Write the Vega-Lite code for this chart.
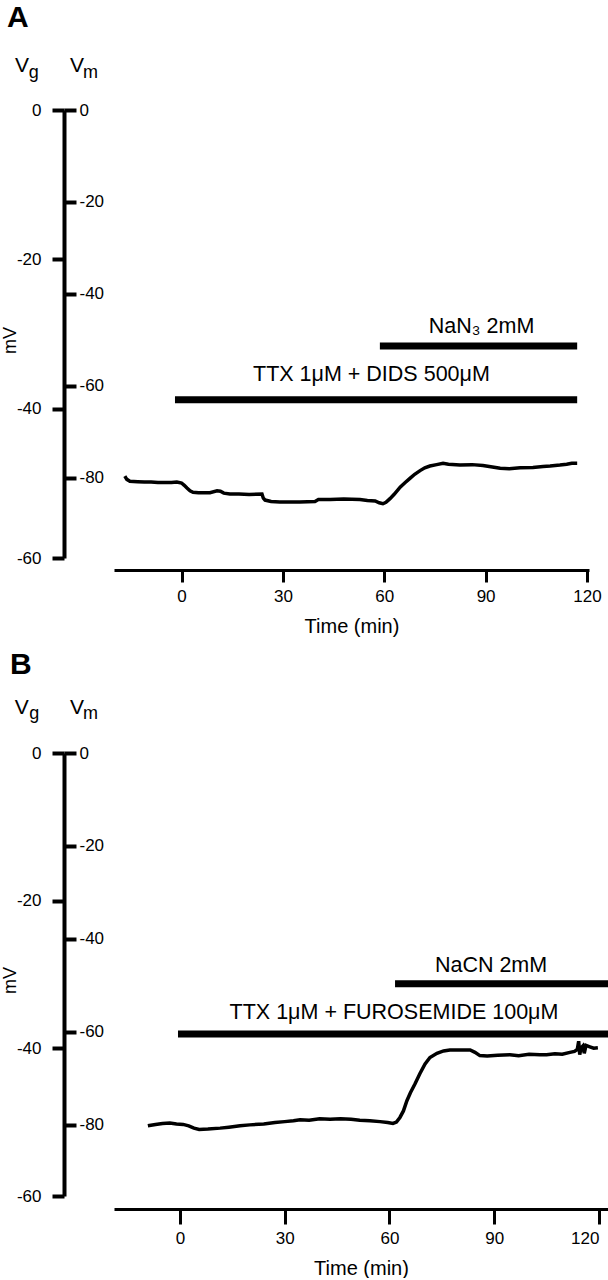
{
  "$schema": "https://vega.github.io/schema/vega-lite/v6.json",
  "background": "white",
  "padding": {"left": 1, "top": 3, "right": 0, "bottom": 0},
  "config": {
    "font": "Liberation Sans",
    "view": {"stroke": null},
    "axis": {"grid": false, "domainColor": "black", "tickColor": "black", "labelColor": "black", "titleColor": "black", "labelFont": "Liberation Sans", "titleFont": "Liberation Sans", "titleFontWeight": "normal", "labelFlush": false, "labelOverlap": false, "labelExpr": "datum.value < 0 ? '-' + abs(datum.value) : '' + datum.value"}
  },
  "spacing": 13,
  "datasets": {
    "traceA": [
      {"t": -16.8, "vm": -79.6}, {"t": -16.2, "vm": -80.3}, {"t": -15.3, "vm": -80.7}, {"t": -13, "vm": -80.8}, {"t": -11, "vm": -80.9}, {"t": -9, "vm": -80.9}, {"t": -7, "vm": -81.0}, {"t": -5, "vm": -81.0}, {"t": -3, "vm": -81.0}, {"t": -1.4, "vm": -80.9}, {"t": 0, "vm": -81.1}, {"t": 0.8, "vm": -81.6}, {"t": 1.6, "vm": -82.2}, {"t": 2.5, "vm": -82.8}, {"t": 3.4, "vm": -83.1}, {"t": 5, "vm": -83.2}, {"t": 7, "vm": -83.2}, {"t": 8.4, "vm": -83.2}, {"t": 10.5, "vm": -82.8}, {"t": 11.5, "vm": -82.9}, {"t": 12.5, "vm": -83.3}, {"t": 14.3, "vm": -83.5}, {"t": 17, "vm": -83.5}, {"t": 20, "vm": -83.6}, {"t": 23.8, "vm": -83.5}, {"t": 24.2, "vm": -84.4}, {"t": 24.7, "vm": -84.8}, {"t": 26.5, "vm": -85.1}, {"t": 29.1, "vm": -85.2}, {"t": 32, "vm": -85.2}, {"t": 35, "vm": -85.2}, {"t": 39.5, "vm": -85.1}, {"t": 40.5, "vm": -84.7}, {"t": 44, "vm": -84.7}, {"t": 48, "vm": -84.6}, {"t": 52.8, "vm": -84.7}, {"t": 55, "vm": -84.9}, {"t": 57.3, "vm": -85.0}, {"t": 58.5, "vm": -85.4}, {"t": 59.6, "vm": -85.6}, {"t": 60.5, "vm": -85.3}, {"t": 61.7, "vm": -84.5}, {"t": 63, "vm": -83.5}, {"t": 64.7, "vm": -82.0}, {"t": 66.2, "vm": -81.0}, {"t": 67.6, "vm": -80.1}, {"t": 69, "vm": -79.2}, {"t": 70.6, "vm": -78.4}, {"t": 72, "vm": -77.8}, {"t": 73.5, "vm": -77.4}, {"t": 75.5, "vm": -77.1}, {"t": 77.4, "vm": -76.8}, {"t": 79, "vm": -77.0}, {"t": 82.4, "vm": -77.2}, {"t": 86, "vm": -77.1}, {"t": 89.2, "vm": -77.3}, {"t": 92, "vm": -77.6}, {"t": 94.3, "vm": -77.9}, {"t": 97, "vm": -78.0}, {"t": 100.2, "vm": -77.8}, {"t": 104, "vm": -77.7}, {"t": 107, "vm": -77.5}, {"t": 109.1, "vm": -77.4}, {"t": 112, "vm": -77.2}, {"t": 114, "vm": -77.0}, {"t": 115.5, "vm": -76.8}, {"t": 117.1, "vm": -76.8}
    ],
    "traceB": [
      {"t": -9.2, "vm": -80.2}, {"t": -7, "vm": -79.9}, {"t": -5, "vm": -79.7}, {"t": -2.9, "vm": -79.6}, {"t": -1, "vm": -79.8}, {"t": 0.9, "vm": -79.9}, {"t": 2.5, "vm": -80.2}, {"t": 4, "vm": -80.7}, {"t": 5.5, "vm": -81.0}, {"t": 8, "vm": -80.9}, {"t": 11.5, "vm": -80.7}, {"t": 14, "vm": -80.5}, {"t": 17.2, "vm": -80.2}, {"t": 20, "vm": -80.0}, {"t": 24, "vm": -79.8}, {"t": 27.2, "vm": -79.5}, {"t": 30, "vm": -79.3}, {"t": 32.5, "vm": -79.1}, {"t": 34.4, "vm": -78.9}, {"t": 37, "vm": -79.0}, {"t": 40, "vm": -78.7}, {"t": 43, "vm": -78.8}, {"t": 46, "vm": -78.7}, {"t": 49, "vm": -78.8}, {"t": 51.5, "vm": -79.0}, {"t": 54.4, "vm": -79.1}, {"t": 57.3, "vm": -79.3}, {"t": 59.5, "vm": -79.5}, {"t": 61, "vm": -79.7}, {"t": 62, "vm": -79.4}, {"t": 63, "vm": -78.4}, {"t": 64, "vm": -77.0}, {"t": 65, "vm": -74.8}, {"t": 66, "vm": -73.1}, {"t": 67.3, "vm": -71.2}, {"t": 68.7, "vm": -69.0}, {"t": 70.2, "vm": -66.9}, {"t": 71.6, "vm": -65.5}, {"t": 73.6, "vm": -64.6}, {"t": 75.5, "vm": -64.1}, {"t": 77.3, "vm": -63.9}, {"t": 80, "vm": -63.9}, {"t": 83.1, "vm": -63.9}, {"t": 84.5, "vm": -64.4}, {"t": 85.9, "vm": -65.1}, {"t": 88, "vm": -65.2}, {"t": 91, "vm": -65.0}, {"t": 94.5, "vm": -64.9}, {"t": 97, "vm": -65.1}, {"t": 100, "vm": -64.8}, {"t": 103.1, "vm": -64.9}, {"t": 105, "vm": -64.9}, {"t": 107.4, "vm": -64.7}, {"t": 109.5, "vm": -64.8}, {"t": 111.7, "vm": -64.4}, {"t": 113, "vm": -64.2}, {"t": 113.8, "vm": -63.8}, {"t": 114.2, "vm": -62.0}, {"t": 114.5, "vm": -64.9}, {"t": 114.9, "vm": -63.4}, {"t": 115.4, "vm": -63.0}, {"t": 115.8, "vm": -64.6}, {"t": 116.3, "vm": -62.9}, {"t": 117.4, "vm": -63.2}, {"t": 118.5, "vm": -63.5}, {"t": 119.7, "vm": -63.4}
    ],
    "barsA": [
      {"start": -1.95, "end": 117.1, "vg": -38.8, "label": "TTX 1μM + DIDS 500μM"},
      {"start": 58.7, "end": 117.1, "vg": -31.6, "label": "NaN₃ 2mM"}
    ],
    "barsB": [
      {"start": -0.57, "end": 122.6, "vg": -38.06, "label": "TTX 1μM + FUROSEMIDE 100μM"},
      {"start": 61.6, "end": 122.6, "vg": -31.25, "label": "NaCN 2mM"}
    ],
    "textA": [
      {"t": -51.7, "vg": 11.1, "label": "A", "kind": "panel"},
      {"t": -49.3, "vg": 5.09, "label": "V", "kind": "main"},
      {"t": -45.2, "vg": 4.29, "label": "g", "kind": "sub"},
      {"t": -33.0, "vg": 5.09, "label": "V", "kind": "main"},
      {"t": -29.2, "vg": 4.29, "label": "m", "kind": "sub"},
      {"t": 88.8, "vg": -29.86, "label": "NaN₃ 2mM", "kind": "treat"},
      {"t": 56.2, "vg": -36.29, "label": "TTX 1μM + DIDS 500μM", "kind": "treat"}
    ],
    "textB": [
      {"t": -48.7, "vg": 10.7, "label": "B", "kind": "panel"},
      {"t": -47.3, "vg": 5.28, "label": "V", "kind": "main"},
      {"t": -43.2, "vg": 4.6, "label": "g", "kind": "sub"},
      {"t": -31.5, "vg": 5.28, "label": "V", "kind": "main"},
      {"t": -27.8, "vg": 4.6, "label": "m", "kind": "sub"},
      {"t": 89.1, "vg": -29.66, "label": "NaCN 2mM", "kind": "treat"},
      {"t": 61.3, "vg": -36.03, "label": "TTX 1μM + FUROSEMIDE 100μM", "kind": "treat"}
    ]
  },
  "vconcat": [
    {
      "width": 475,
      "height": 448,
      "resolve": {"scale": {"y": "independent"}},
      "layer": [
        {
          "layer": [
            {
              "data": {"name": "barsA"},
              "mark": {"type": "rule", "strokeWidth": 7, "strokeCap": "butt", "color": "black"},
              "encoding": {
                "x": {"field": "start", "type": "quantitative", "title": "Time (min)", "scale": {"domain": [-20, 120.6], "nice": false, "zero": false},
                  "axis": {"values": [0, 30, 60, 90, 120], "offset": 12, "domainWidth": 3, "tickWidth": 3, "tickSize": 12, "labelFontSize": 17, "labelPadding": 6, "titleFontSize": 20, "titlePadding": 12}},
                "x2": {"field": "end"},
                "y": {"field": "vg", "type": "quantitative", "title": "mV", "scale": {"domain": [-60, 0], "nice": false, "zero": false},
                  "axis": {"orient": "left", "values": [0, -20, -40, -60], "offset": 50, "domainWidth": 4, "tickWidth": 4, "tickSize": 12, "labelFontSize": 17, "labelPadding": 11, "titleFontSize": 18, "titleAngle": -90, "titleX": -48.5, "titleY": 230, "titleAlign": "center", "titleBaseline": "alphabetic"}}
              }
            },
            {
              "data": {"name": "textA"},
              "transform": [{"filter": "datum.kind === 'treat'"}],
              "mark": {"type": "text", "fontSize": 21.5, "align": "center", "baseline": "alphabetic", "color": "black"},
              "encoding": {
                "x": {"field": "t", "type": "quantitative", "title": "Time (min)"},
                "y": {"field": "vg", "type": "quantitative", "title": "mV"},
                "text": {"field": "label"}
              }
            },
            {
              "data": {"name": "textA"},
              "transform": [{"filter": "datum.kind === 'panel'"}],
              "mark": {"type": "text", "fontSize": 30, "fontWeight": "bold", "align": "left", "baseline": "alphabetic", "color": "black"},
              "encoding": {
                "x": {"field": "t", "type": "quantitative", "title": "Time (min)"},
                "y": {"field": "vg", "type": "quantitative", "title": "mV"},
                "text": {"field": "label"}
              }
            },
            {
              "data": {"name": "textA"},
              "transform": [{"filter": "datum.kind === 'main'"}],
              "mark": {"type": "text", "fontSize": 21, "align": "left", "baseline": "alphabetic", "color": "black"},
              "encoding": {
                "x": {"field": "t", "type": "quantitative", "title": "Time (min)"},
                "y": {"field": "vg", "type": "quantitative", "title": "mV"},
                "text": {"field": "label"}
              }
            },
            {
              "data": {"name": "textA"},
              "transform": [{"filter": "datum.kind === 'sub'"}],
              "mark": {"type": "text", "fontSize": 18, "align": "left", "baseline": "alphabetic", "color": "black"},
              "encoding": {
                "x": {"field": "t", "type": "quantitative", "title": "Time (min)"},
                "y": {"field": "vg", "type": "quantitative", "title": "mV"},
                "text": {"field": "label"}
              }
            }
          ]
        },
        {
          "data": {"name": "traceA"},
          "mark": {"type": "line", "strokeWidth": 3.5, "color": "black"},
          "encoding": {
            "x": {"field": "t", "type": "quantitative", "title": "Time (min)"},
            "y": {"field": "vm", "type": "quantitative", "scale": {"domain": [-97.4, 0], "nice": false, "zero": false},
              "axis": {"orient": "right", "offset": -525, "values": [0, -20, -40, -60, -80], "domain": false, "tickWidth": 4, "tickSize": 12, "labelFontSize": 17, "labelPadding": 3, "title": null}}
          }
        }
      ]
    },
    {
      "width": 494,
      "height": 443,
      "resolve": {"scale": {"y": "independent"}},
      "layer": [
        {
          "layer": [
            {
              "data": {"name": "barsB"},
              "mark": {"type": "rule", "strokeWidth": 7, "strokeCap": "butt", "color": "black"},
              "encoding": {
                "x": {"field": "start", "type": "quantitative", "title": "Time (min)", "scale": {"domain": [-18.9, 122.6], "nice": false, "zero": false},
                  "axis": {"values": [0, 30, 60, 90, 120], "offset": 13, "domainWidth": 3, "tickWidth": 3, "tickSize": 15, "labelFontSize": 17, "labelPadding": 6, "titleFontSize": 20, "titlePadding": 12,
                    "labelAlign": {"condition": {"test": "datum.value === 120", "value": "right"}, "value": "center"}}},
                "x2": {"field": "end"},
                "y": {"field": "vg", "type": "quantitative", "title": "mV", "scale": {"domain": [-60, 0], "nice": false, "zero": false},
                  "axis": {"orient": "left", "values": [0, -20, -40, -60], "offset": 50, "domainWidth": 4, "tickWidth": 4, "tickSize": 12, "labelFontSize": 17, "labelPadding": 11, "titleFontSize": 18, "titleAngle": -90, "titleX": -48.5, "titleY": 227, "titleAlign": "center", "titleBaseline": "alphabetic"}}
              }
            },
            {
              "data": {"name": "textB"},
              "transform": [{"filter": "datum.kind === 'treat'"}],
              "mark": {"type": "text", "fontSize": 21.5, "align": "center", "baseline": "alphabetic", "color": "black"},
              "encoding": {
                "x": {"field": "t", "type": "quantitative", "title": "Time (min)"},
                "y": {"field": "vg", "type": "quantitative", "title": "mV"},
                "text": {"field": "label"}
              }
            },
            {
              "data": {"name": "textB"},
              "transform": [{"filter": "datum.kind === 'panel'"}],
              "mark": {"type": "text", "fontSize": 30, "fontWeight": "bold", "align": "left", "baseline": "alphabetic", "color": "black"},
              "encoding": {
                "x": {"field": "t", "type": "quantitative", "title": "Time (min)"},
                "y": {"field": "vg", "type": "quantitative", "title": "mV"},
                "text": {"field": "label"}
              }
            },
            {
              "data": {"name": "textB"},
              "transform": [{"filter": "datum.kind === 'main'"}],
              "mark": {"type": "text", "fontSize": 21, "align": "left", "baseline": "alphabetic", "color": "black"},
              "encoding": {
                "x": {"field": "t", "type": "quantitative", "title": "Time (min)"},
                "y": {"field": "vg", "type": "quantitative", "title": "mV"},
                "text": {"field": "label"}
              }
            },
            {
              "data": {"name": "textB"},
              "transform": [{"filter": "datum.kind === 'sub'"}],
              "mark": {"type": "text", "fontSize": 18, "align": "left", "baseline": "alphabetic", "color": "black"},
              "encoding": {
                "x": {"field": "t", "type": "quantitative", "title": "Time (min)"},
                "y": {"field": "vg", "type": "quantitative", "title": "mV"},
                "text": {"field": "label"}
              }
            }
          ]
        },
        {
          "data": {"name": "traceB"},
          "mark": {"type": "line", "strokeWidth": 3.5, "color": "black"},
          "encoding": {
            "x": {"field": "t", "type": "quantitative", "title": "Time (min)"},
            "y": {"field": "vm", "type": "quantitative", "scale": {"domain": [-95.3, 0], "nice": false, "zero": false},
              "axis": {"orient": "right", "offset": -544, "values": [0, -20, -40, -60, -80], "domain": false, "tickWidth": 4, "tickSize": 12, "labelFontSize": 17, "labelPadding": 3, "title": null}}
          }
        }
      ]
    }
  ]
}
